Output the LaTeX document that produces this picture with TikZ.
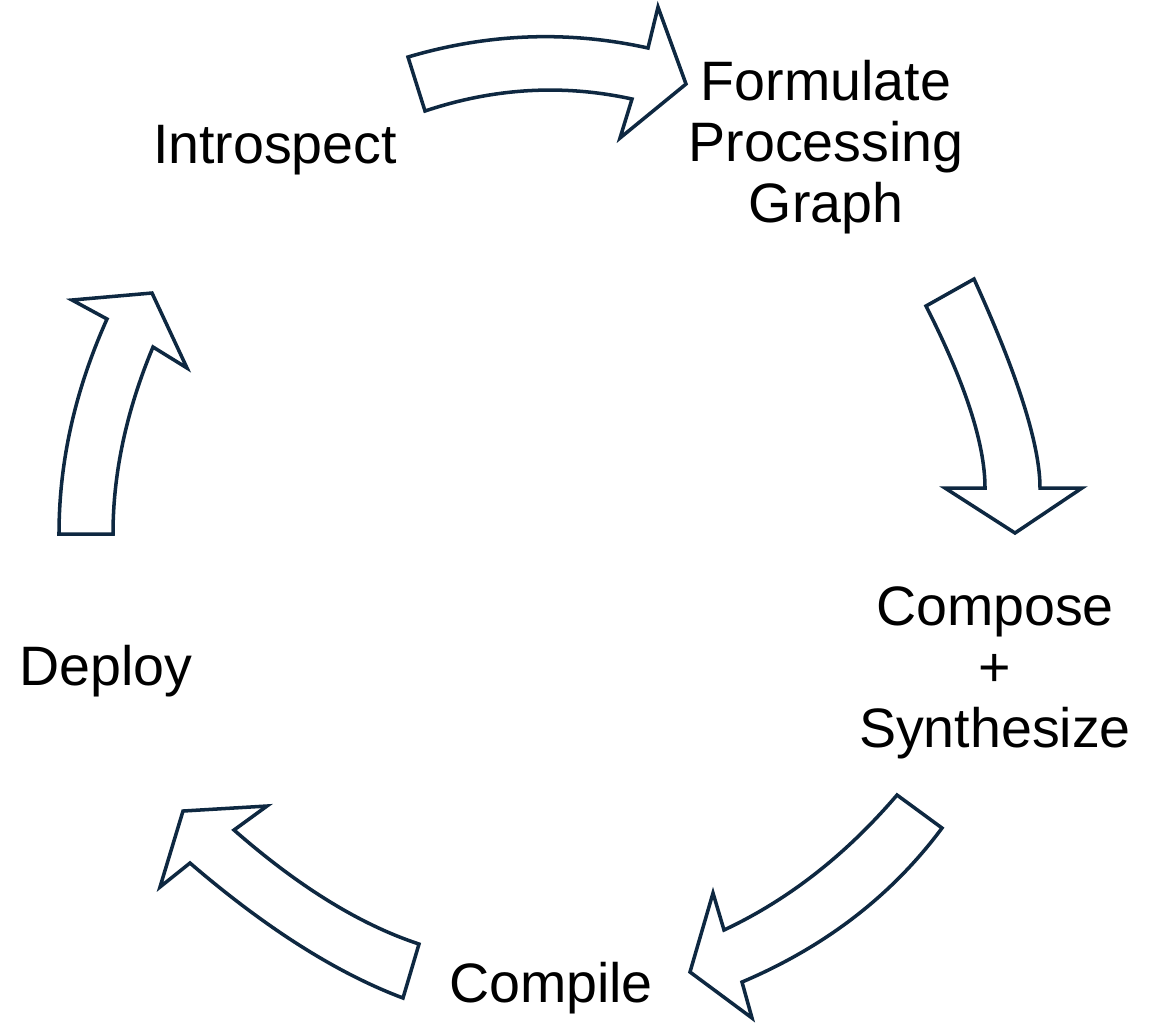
\documentclass[tikz,border=0pt]{standalone}
\usepackage{fontspec}
\setmainfont{Liberation Sans}
\definecolor{navy}{HTML}{0E2841}

\tikzset{
  stage/.style={font=\fontsize{15.8}{17.4}\selectfont, align=center, inner sep=0pt},
  bigarrow/.style={draw=navy, fill=white, line width=1pt, line join=miter}
}

\begin{document}
\begin{tikzpicture}[x=0.01cm, y=-0.01cm]
    \useasboundingbox (0,0) rectangle (1158,1023);

    % stages of the cycle
    \node[stage, anchor=base] (introspect) at (275,163) {Introspect};
    \node[stage] (formulate) at (826,147) {Formulate\\Processing\\Graph};
    \node[stage] (compose) at (995,673) {Compose\\+\\Synthesize};
    \node[stage, anchor=base] (compile) at (551,1002) {Compile};
    \node[stage, anchor=base] (deploy) at (106,685) {Deploy};

    % curved block arrows
    \draw[bigarrow] (408,57) .. controls (488,33.3) and (568,30.3) .. (648,48)
      -- (658,7) -- (686,84) -- (620,138) -- (632,99)
      .. controls (563,83.9) and (494,87.9) .. (425,111) -- cycle;

    \draw[bigarrow] (926,306) -- (974,279)
      .. controls (1018,375.7) and (1040,445.3) .. (1040,488)
      -- (1082,488) -- (1015,533) -- (945,488) -- (985,488)
      .. controls (985,444) and (965.3,383.3) .. cycle;

    \draw[bigarrow] (897,795) -- (942,828)
      .. controls (892,895.3) and (825.3,946.7) .. (742,982)
      -- (752,1018) -- (690,972) -- (713,893) -- (724,930)
      .. controls (788,900) and (845.7,855) .. cycle;

    \draw[bigarrow] (419,944) -- (403,998)
      .. controls (336.7,973.1) and (265.7,928.1) .. (190,863)
      -- (160,887) -- (183,811) -- (267,806) -- (234,830)
      .. controls (298.7,886.7) and (360.3,924.7) .. cycle;

    \draw[bigarrow] (59,534) -- (113,534)
      .. controls (113,473.3) and (126.3,411) .. (153,347)
      -- (187,368) -- (152,293) -- (72,300) -- (107,319)
      .. controls (75,390.3) and (59,462) .. cycle;
\end{tikzpicture}
\end{document}
